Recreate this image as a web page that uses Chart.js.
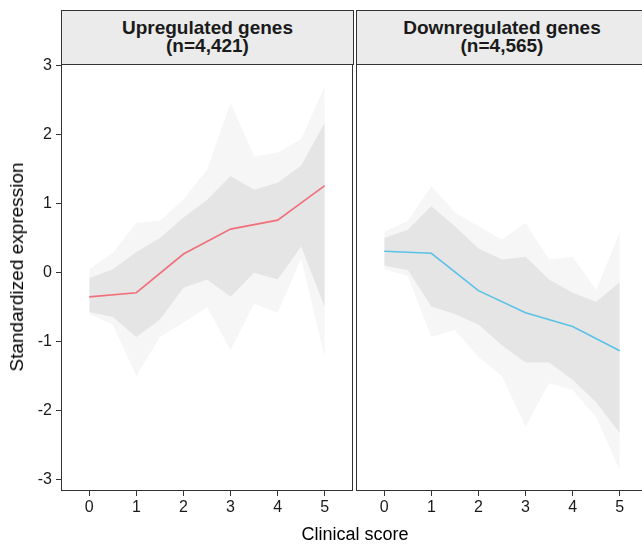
<!DOCTYPE html>
<html lang="en">
<head>
    <meta charset="UTF-8">
    <title>Standardized expression by clinical score</title>
    <script src="https://cdn.jsdelivr.net/npm/chart.js"></script>
    <style>
        html, body {
            margin: 0;
            padding: 0;
            background: #fff;
            width: 642px;
            height: 544px;
            overflow: hidden;
            font-family: 'Liberation Sans', Arial, sans-serif;
        }

        .panel {
            position: absolute;
            top: 0;
        }

        .strip {
            position: absolute;
            top: 10px;
            height: 55px;
            background: #ebebeb;
            border: 1px solid #333;
            box-sizing: border-box;
            text-align: center;
            font-weight: bold;
            font-size: 19px;
            line-height: 18px;
            color: #1a1a1a;
            padding-top: 8px;
        }

        .axis-title {
            position: absolute;
            color: #000;
            white-space: nowrap;
            transform: translate(-50%, -50%);
        }
    </style>
</head>
<body>
    <div class="panel" style="left:0; width:356px; height:544px;">
        <canvas id="up-chart" width="356" height="544"></canvas>
    </div>
    <div class="panel" style="left:354px; width:300px; height:544px;">
        <canvas id="down-chart" width="300" height="544"></canvas>
    </div>

    <div class="strip" style="left:61px; width:293px;">Upregulated genes<br>(n=4,421)</div>
    <div class="strip" style="left:356px; width:292px;">Downregulated genes<br>(n=4,565)</div>

    <div class="axis-title" style="left:355px; top:534px; font-size:18px;">Clinical score</div>
    <div class="axis-title" style="left:17px; top:267px; font-size:19px; transform: translate(-50%, -50%) rotate(-90deg);">Standardized expression</div>

    <script>
        // data
        const scores = [0, 1, 2, 3, 4, 5];
        const yTicks = [-3, -2, -1, 0, 1, 2, 3];

        const upMean = [-0.35, -0.29, 0.27, 0.63, 0.76, 1.26];
        const downMean = [0.31, 0.28, -0.26, -0.58, -0.78, -1.13];

        // spread of the individual gene profiles (outer = faint, core = dense)
        const bandX = [0, 0.5, 1, 1.5, 2, 2.5, 3, 3.5, 4, 4.5, 5];
        const upOuterHi = [0.05, 0.29, 0.72, 0.75, 1.06, 1.49, 2.46, 1.68, 1.74, 1.93, 2.70];
        const upOuterLo = [-0.60, -0.75, -1.50, -0.93, -0.72, -0.50, -1.12, -0.45, -0.58, 0.20, -1.22];
        const upCoreHi = [-0.08, 0.05, 0.30, 0.50, 0.80, 1.05, 1.40, 1.20, 1.30, 1.55, 2.17];
        const upCoreLo = [-0.57, -0.64, -0.93, -0.68, -0.22, -0.10, -0.35, 0.00, -0.10, 0.38, -0.50];

        const downOuterHi = [0.59, 0.75, 1.25, 0.87, 0.67, 0.48, 0.72, 0.19, 0.23, -0.25, 0.58];
        const downOuterLo = [0.05, -0.05, -0.93, -0.83, -1.22, -1.50, -2.23, -1.60, -1.70, -2.09, -2.86];
        const downCoreHi = [0.50, 0.62, 0.96, 0.67, 0.35, 0.19, 0.23, -0.10, -0.29, -0.42, -0.14];
        const downCoreLo = [0.10, 0.04, -0.49, -0.60, -0.75, -1.05, -1.30, -1.30, -1.55, -1.88, -2.32];

        const pts = (xs, ys) => xs.map((x, i) => ({ x: x, y: ys[i] }));

        const frame = {
            id: 'frame',
            afterDraw(chart) {
                const a = chart.chartArea;
                const ctx = chart.ctx;
                ctx.save();
                ctx.strokeStyle = '#333';
                ctx.lineWidth = 1;
                ctx.strokeRect(Math.round(a.left) + 0.5, Math.round(a.top) + 0.5,
                    Math.round(a.right - a.left) - 1, Math.round(a.bottom - a.top) - 1);
                ctx.restore();
            }
        };

        function makeChart(id, mean, color, outerHi, outerLo, coreHi, coreLo, showY, padding) {
            const band = (data, fill, bg, order) => ({
                data: pts(bandX, data),
                fill: fill,
                backgroundColor: bg,
                borderWidth: 0,
                pointRadius: 0,
                order: order
            });
            return new Chart(document.getElementById(id), {
                type: 'line',
                data: {
                    datasets: [
                        {
                            data: pts(scores, mean),
                            borderColor: color,
                            borderWidth: 1.6,
                            pointRadius: 0,
                            fill: false,
                            order: 0
                        },
                        band(coreHi, 2, '#e5e5e5', 1),
                        band(coreLo, false, '#e5e5e5', 1),
                        band(outerHi, 4, '#f6f6f6', 2),
                        band(outerLo, false, '#f6f6f6', 2)
                    ]
                },
                options: {
                    responsive: false,
                    animation: false,
                    layout: { padding: padding },
                    plugins: { legend: { display: false }, tooltip: { enabled: false } },
                    scales: {
                        x: {
                            type: 'linear',
                            min: -0.6,
                            max: 5.6,
                            afterBuildTicks: s => { s.ticks = scores.map(v => ({ value: v })); },
                            afterFit: s => { s.height = 53; },
                            grid: { drawOnChartArea: false, tickLength: 5, tickColor: '#333' },
                            border: { display: false },
                            ticks: { color: '#1a1a1a', padding: 2, font: { family: "'Liberation Sans', Arial", size: 16 } }
                        },
                        y: {
                            display: showY,
                            min: -3.16,
                            max: 3.02,
                            afterBuildTicks: s => { s.ticks = yTicks.map(v => ({ value: v })); },
                            afterFit: s => { s.width = showY ? 61 : 0; },
                            grid: { drawOnChartArea: false, tickLength: 5, tickColor: '#333' },
                            border: { display: false },
                            ticks: { color: '#1a1a1a', padding: 4, font: { family: "'Liberation Sans', Arial", size: 16 } }
                        }
                    }
                },
                plugins: [frame]
            });
        }

        makeChart('up-chart', upMean, '#f0707a', upOuterHi, upOuterLo, upCoreHi, upCoreLo, true,
            { top: 64, right: 3, left: 0, bottom: 0 });
        makeChart('down-chart', downMean, '#5bc2e7', downOuterHi, downOuterLo, downCoreHi, downCoreLo, false,
            { top: 64, right: 6, left: 2, bottom: 0 });
    </script>
</body>
</html>
